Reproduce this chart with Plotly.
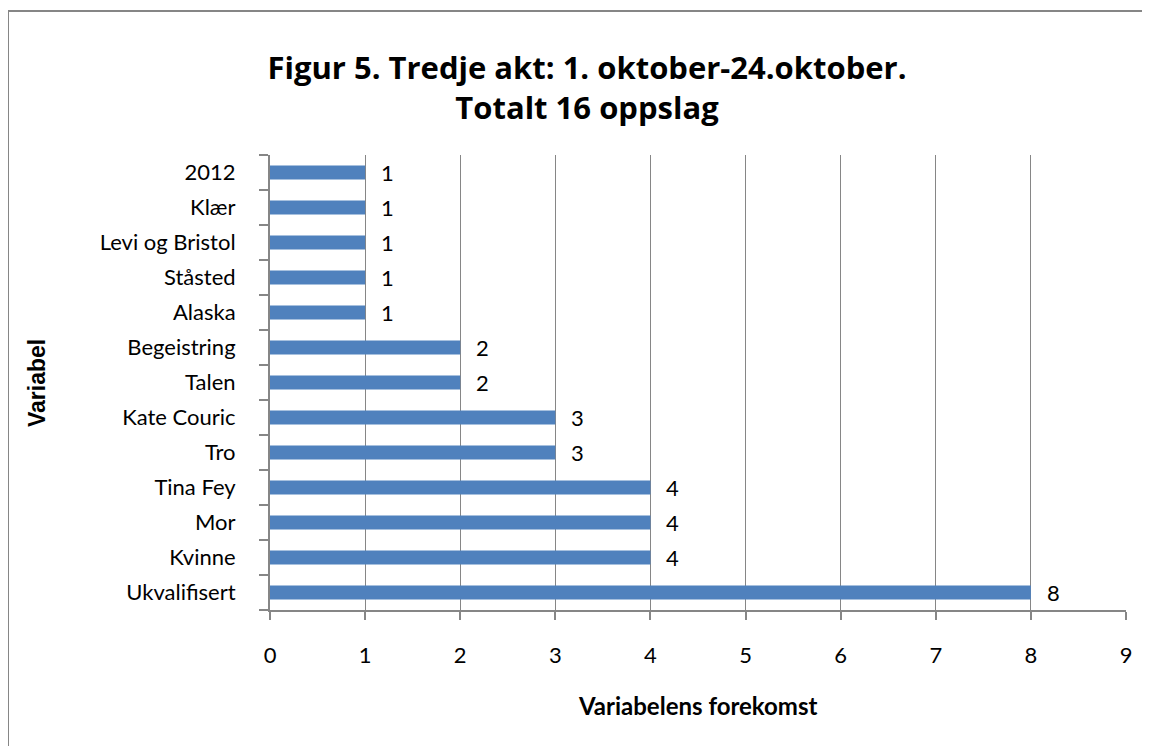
import plotly.graph_objects as go

categories = ["Ukvalifisert", "Kvinne", "Mor", "Tina Fey", "Tro", "Kate Couric",
              "Talen", "Begeistring", "Alaska", "Ståsted", "Levi og Bristol", "Klær", "2012"]
values = [8, 4, 4, 4, 3, 3, 2, 2, 1, 1, 1, 1, 1]
x_ticks = list(range(0, 10))
title_line1 = "Figur 5. Tredje akt: 1. oktober-24.oktober."
title_line2 = "Totalt 16 oppslag"

# page body adds an 8px offset; figure is sized/positioned to compensate
OFF = 8
W, H = 1142, 738
L, R, T, B = 262, 24, 147, 136
pw, ph = W - L - R, H - T - B

def px_x(sx):
    return (sx - OFF - L) / pw

def px_y(sy):
    return (H - B - (sy - OFF)) / ph

grey = "#868686"
font_main = "Lato, 'Open Sans', sans-serif"

fig = go.Figure()
fig.add_trace(go.Bar(
    x=values, y=categories, orientation="h",
    marker=dict(color="#4F81BD", line=dict(width=0)),
    width=0.4, hoverinfo="x+y",
))

annotations = []
for i, v in enumerate(values):
    annotations.append(dict(x=v, y=i, xref="x", yref="y", text=str(v), showarrow=False,
                            xanchor="left", yanchor="middle", xshift=14,
                            font=dict(family=font_main, size=22, color="#000000")))

annotations.append(dict(x=px_x(698), y=px_y(705), xref="paper", yref="paper",
                        text="<b>Variabelens forekomst</b>", showarrow=False,
                        xanchor="center", yanchor="middle",
                        font=dict(family=font_main, size=24, color="#000000")))
annotations.append(dict(x=px_x(37), y=px_y(383), xref="paper", yref="paper",
                        text="<b>Variabel</b>", showarrow=False, textangle=-90,
                        xanchor="center", yanchor="middle",
                        font=dict(family="'Liberation Sans', Arial, sans-serif", size=23, color="#000000")))

shapes = [
    dict(type="line", xref="paper", yref="paper", x0=px_x(8), x1=px_x(1200),
         y0=px_y(11), y1=px_y(11), line=dict(color=grey, width=2)),
    dict(type="line", xref="paper", yref="paper", x0=px_x(8), x1=px_x(8),
         y0=px_y(11), y1=px_y(800), line=dict(color=grey, width=2)),
]

fig.update_layout(
    width=W, height=H,
    margin=dict(l=L, r=R, t=T, b=B),
    paper_bgcolor="white", plot_bgcolor="white",
    showlegend=False,
    title=dict(text="<b>" + title_line1 + "<br>" + title_line2 + "</b>",
               x=(587 - OFF) / W, xanchor="center", y=1 - (79 - OFF) / H, yanchor="middle",
               yref="container",
               font=dict(family="'Open Sans', Lato, sans-serif", size=31, color="#000000")),
    xaxis=dict(range=[0, 9], tickvals=x_ticks, ticktext=[str(t) for t in x_ticks],
               showgrid=True, gridcolor=grey, gridwidth=1.3,
               showline=True, linecolor=grey, linewidth=2,
               ticks="outside", ticklen=8, tickcolor=grey, tickwidth=1.5,
               ticklabelstandoff=17,
               tickfont=dict(family=font_main, size=22, color="#000000"),
               zeroline=False, fixedrange=True),
    yaxis=dict(type="category", categoryorder="array", categoryarray=categories,
               range=[-0.5, len(categories) - 0.5],
               showgrid=False, showline=True, linecolor=grey, linewidth=2,
               ticks="outside", ticklen=9, tickcolor=grey, tickwidth=1.5,
               tickson="boundaries", ticklabelstandoff=28,
               tickfont=dict(family=font_main, size=22, color="#000000"),
               zeroline=False, fixedrange=True),
    annotations=annotations,
    shapes=shapes,
    bargap=0.6,
)

fig.write_html("out.html")
